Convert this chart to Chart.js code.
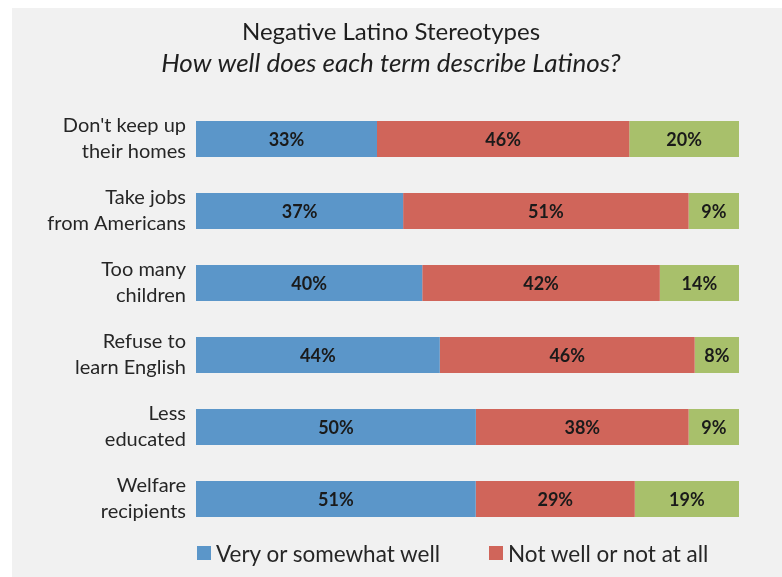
<!DOCTYPE html>
<html>
<head>
<meta charset="utf-8">
<script src="https://cdn.jsdelivr.net/npm/chart.js@4.4.1/dist/chart.umd.min.js"></script>
<style>
   body{ margin:0; background:#fff; width:782px; height:577px; overflow:hidden; font-family:Lato, sans-serif; }
   #wrap{ position:absolute; left:12px; top:8px; width:770px; height:569px; background:#f1f1f1; }
   #chart{ position:absolute; left:0; top:0; }
   .legItem{ position:absolute; top:532px; height:26px; display:flex; align-items:center; font-size:22.5px; color:#262626; white-space:nowrap; }
   .legBox{ width:14px; height:14px; margin-right:5px; }
</style>
</head>
<body>
<div id="wrap">
   <canvas id="chart" width="770" height="569"></canvas>
   <div id="legend"></div>
</div>
<script>

const categories = [
   ["Don't keep up", "their homes"],
   ["Take jobs", "from Americans"],
   ["Too many", "children"],
   ["Refuse to", "learn English"],
   ["Less", "educated"],
   ["Welfare", "recipients"]
];

const veryWell = [33, 37, 40, 44, 50, 51];
const notWell  = [46, 51, 42, 46, 38, 29];
const restOf   = [20,  9, 14,  8,  9, 19];

const seriesNames  = ["Very or somewhat well", "Not well or not at all", ""];
const seriesColors = ["#5b96c9", "#d0655a", "#a8c06b"];
const legendLeft   = [185, 477];

const rawSeries = [veryWell, notWell, restOf];

/* bars are shown as a share of each row's total (100% stacked) */
const rowTotals = categories.map((c, i) => veryWell[i] + notWell[i] + restOf[i]);

const datasets = rawSeries.map(function(values, s){
   return {
      label: seriesNames[s],
      data: values.map((v, i) => v / rowTotals[i] * 100),
      raw: values,
      backgroundColor: seriesColors[s],
      borderWidth: 0,
      barPercentage: 0.5,
      categoryPercentage: 1
   };
});

const segmentLabels = {
   id: "segmentLabels",
   afterDatasetsDraw(chart){
      const ctx = chart.ctx;
      ctx.save();
      ctx.font = "bold 18px Lato";
      ctx.fillStyle = "#1a1a1a";
      ctx.textAlign = "center";
      ctx.textBaseline = "middle";
      chart.data.datasets.forEach(function(ds, d){
         chart.getDatasetMeta(d).data.forEach(function(bar, i){
            const p = bar.getProps(["x", "base", "y"], true);
            ctx.fillText(ds.raw[i] + "%", (p.x + p.base) / 2, p.y + 1);
         });
      });
      ctx.restore();
   }
};

const chart = new Chart(document.getElementById("chart"), {
   type: "bar",
   data: { labels: categories, datasets: datasets },
   options: {
      indexAxis: "y",
      responsive: false,
      animation: false,
      layout: { padding: { left: 0, right: 12, top: 0, bottom: 42 } },
      plugins: {
         legend: { display: false },
         tooltip: { enabled: false },
         title: {
            display: true,
            text: "Negative Latino Stereotypes",
            color: "#1f1f1f",
            font: { family: "Lato", size: 24, weight: "normal", lineHeight: 1.2 },
            padding: { top: 10, bottom: 1 }
         },
         subtitle: {
            display: true,
            text: "How well does each term describe Latinos?",
            color: "#1f1f1f",
            font: { family: "Lato", size: 26, style: "italic", lineHeight: 1.2 },
            padding: { top: 0, bottom: 24 }
         }
      },
      scales: {
         x: { stacked: true, display: false, min: 0, max: 100 },
         y: {
            stacked: true,
            grid: { display: false },
            border: { display: false },
            ticks: {
               color: "#262626",
               padding: 2,
               font: { family: "Lato", size: 20, lineHeight: 1.3 }
            },
            afterFit(scale){ scale.width = 184; }
         },
         yRight: {
            position: "right",
            display: true,
            grid: { display: false },
            border: { display: false },
            ticks: { display: false },
            afterFit(scale){ scale.width = 31; }
         }
      }
   },
   plugins: [segmentLabels]
});

/* legend: only the two named answers */
const legendEl = document.getElementById("legend");
[0, 1].forEach(function(s){
   const item = document.createElement("div");
   item.className = "legItem";
   item.style.left = legendLeft[s] + "px";
   const box = document.createElement("span");
   box.className = "legBox";
   box.style.background = seriesColors[s];
   item.appendChild(box);
   item.appendChild(document.createTextNode(seriesNames[s]));
   legendEl.appendChild(item);
});

</script>
</body>
</html>
